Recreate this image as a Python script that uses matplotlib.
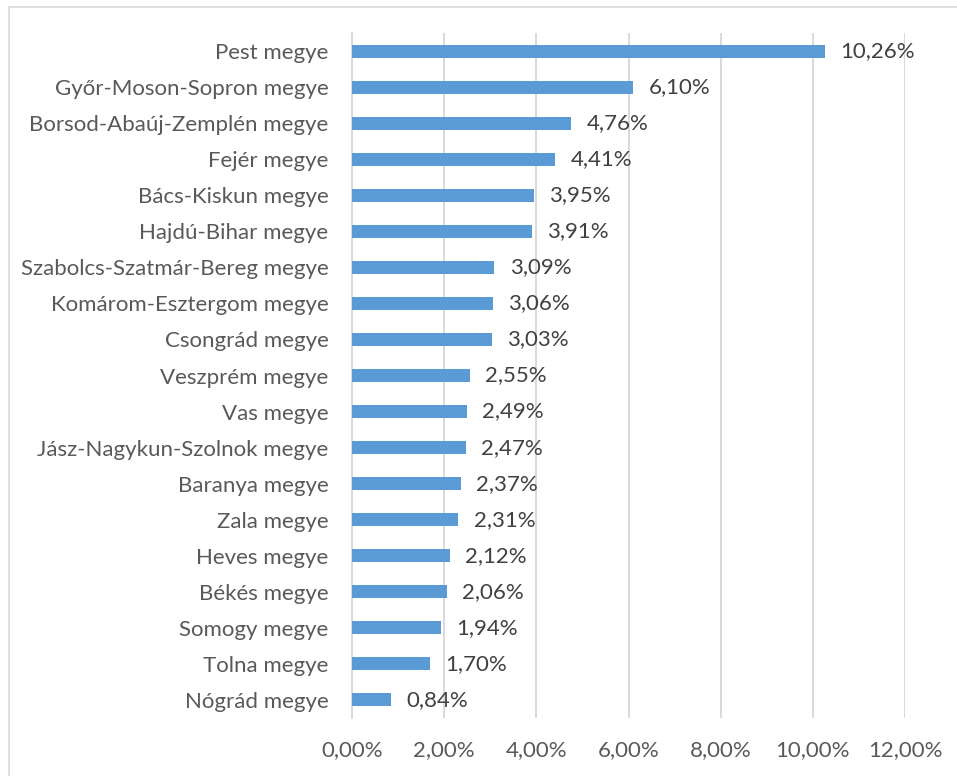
import matplotlib.pyplot as plt
from matplotlib.patches import Rectangle

# megyék, felülről lefelé
megyek = ["Pest megye", "Győr-Moson-Sopron megye", "Borsod-Abaúj-Zemplén megye",
          "Fejér megye", "Bács-Kiskun megye", "Hajdú-Bihar megye",
          "Szabolcs-Szatmár-Bereg megye", "Komárom-Esztergom megye", "Csongrád megye",
          "Veszprém megye", "Vas megye", "Jász-Nagykun-Szolnok megye",
          "Baranya megye", "Zala megye", "Heves megye", "Békés megye",
          "Somogy megye", "Tolna megye", "Nógrád megye"]
ertekek = [10.26, 6.10, 4.76, 4.41, 3.95, 3.91, 3.09, 3.06, 3.03,
           2.55, 2.49, 2.47, 2.37, 2.31, 2.12, 2.06, 1.94, 1.70, 0.84]
x_ticks = [0, 2, 4, 6, 8, 10, 12]

plt.rcParams['font.family'] = ['Lato', 'DejaVu Sans']

fig = plt.figure(figsize=(9.57, 7.76), dpi=100)
ax = fig.add_axes([352/957, 1 - 718/776, (905 - 352)/957, (718 - 33)/776])

# keret
fig.patches.append(Rectangle((9/957, -0.1), 1.2, 1 - 7/776 + 0.1, transform=fig.transFigure,
                             fill=False, edgecolor="#D9D9D9", linewidth=1.2))

y = list(range(len(megyek)))
ax.barh(y, ertekek, height=0.36, color="#5B9BD5", zorder=3)
for yi, v in zip(y, ertekek):
    ax.text(v + 0.33, yi, f"{v:.2f}%".replace(".", ","), va="center", ha="left",
            fontsize=16, color="#404040")

ax.set_ylim(len(megyek) - 0.5, -0.5)
ax.set_xlim(0, 12)
ax.set_yticks(y)
ax.set_yticklabels(megyek, fontsize=16, color="#595959")
ax.set_xticks(x_ticks)
ax.set_xticklabels([f"{t:.2f}%".replace(".", ",") for t in x_ticks], fontsize=16, color="#595959")
ax.tick_params(axis="y", length=0, pad=17)
ax.tick_params(axis="x", length=0, pad=16)
ax.grid(axis="x", color="#D9D9D9", linewidth=1.4, zorder=0)
for s in ["top", "right", "bottom"]:
    ax.spines[s].set_visible(False)
ax.spines["left"].set_color("#D9D9D9")
ax.spines["left"].set_linewidth(1.4)

fig.savefig("out.png", dpi=100)
